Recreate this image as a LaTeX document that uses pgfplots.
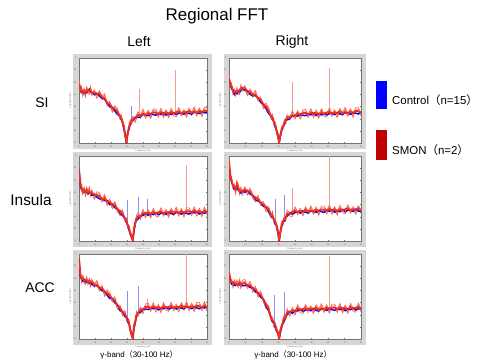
\documentclass[border=0pt]{standalone}
\usepackage{pgfplots}
\pgfplotsset{compat=1.18}
\usepackage{pgfplotstable}
\usepackage{fontspec}
\setmainfont{Liberation Sans}
\newfontfamily\cjk{Noto Sans CJK JP}
\definecolor{myred}{RGB}{240,35,10}
\definecolor{redlight}{RGB}{246,100,75}
\definecolor{frame}{RGB}{214,214,214}
\definecolor{legred}{RGB}{192,0,0}

\pgfplotstableread{
x b r s
0 68.8 70.8 73
1 64.4 63.0 61
2 60.2 62.2 65
3 60.9 59.6 56.5
4 59.0 61.6 63
5 60.1 58.7 55.8
6 59.7 62.0 64.6
7 62.6 61.3 60.1
8 64.0 62.3 58.7
9 60.7 62.1 64.9
10 60.3 58.8 57.5
12 57.5 59.5 60.7
14 59.0 57.7 54.2
16 55.9 58.3 59.9
18 53.2 54.1 52.8
20 52.5 52.2 56.1
22 47.9 46.9 45
24 43.4 45.9 47.4
26 42.2 41.5 38
28 38.3 40.0 42.1
30 34.3 36.8 39.2
32 32.4 31.0 29.2
33 28.2 30.0 32
34 25.9 24.6 22
35 17.5 19.4 20.5
36 11.1 10.0 8.5
37 0.5 1.5 2
38 11.6 10.5 9.5
39 16.6 18.2 16.5
40 22.7 24.1 25.9
41 26.3 24.8 23.5
42 27.0 28.5 29.7
44 31.0 29.7 26.2
46 30.9 33.3 34.9
48 31.2 32.1 30.8
50 34.5 34.2 38.1
52 33.9 32.9 31
54 32.9 35.4 36.9
56 34.7 34.0 30.5
58 34.3 36.0 38.1
60 33.3 35.8 38.2
62 35.4 34.0 32.2
64 34.2 36.2 39
66 35.9 34.6 31.5
68 33.5 36.1 37.6
70 35.6 34.2 31.3
72 34.2 36.5 39.1
74 36.1 34.8 33.6
76 34.1 36.3 32.7
78 35.7 37.1 39.9
80 36.3 34.8 33.5
82 34.5 36.5 37.7
84 37.0 35.7 32.2
86 35.4 37.8 39.4
88 34.7 35.6 34.3
90 37.0 36.7 40.6
92 36.4 35.4 33.5
94 35.4 37.9 39.4
96 37.2 36.5 33
98 36.3 38.0 40.1
100 36.1 37.8 40.2
}\tl

\pgfplotstableread{
x b r s
0 74.3 76.8 79.2
1 70.4 69.0 67.2
2 64.2 66.2 69.0
3 62.9 61.6 58.5
4 58.0 60.6 62.1
5 61.1 59.7 56.8
6 58.7 61.0 63.6
7 61.6 60.3 59.1
8 60.1 62.3 58.7
9 62.7 64.1 66.9
10 65.3 63.8 62.5
12 62.5 64.5 65.7
14 62.0 60.7 57.2
16 57.9 60.3 61.9
18 56.2 57.1 55.8
20 56.5 56.2 60.1
22 53.9 52.9 51.0
24 48.4 50.9 52.4
26 46.2 45.5 42.0
28 41.3 43.0 45.1
30 35.3 37.8 40.2
32 32.4 31.0 29.2
33 28.2 30.2 32.0
34 25.9 24.6 22.5
35 19.0 21.6 22.5
36 16.1 15.0 13.5
37 8.3 9.5 10.5
38 1.5 1.0 0.5
39 9.0 10.3 8.5
40 15.7 17.0 18.5
41 20.3 18.8 18.0
42 22.5 24.5 25.7
43 28.0 26.7 24.0
44 27.9 30.3 31.9
46 29.2 30.1 28.8
48 32.5 32.2 36.1
50 32.9 31.9 30.0
52 32.4 34.9 36.4
54 34.2 33.5 30.0
56 33.3 35.0 37.1
58 32.8 35.3 37.7
60 34.9 33.5 31.7
62 33.7 35.7 38.5
64 35.9 34.6 31.5
66 33.0 35.6 37.1
68 35.1 33.7 30.8
70 33.7 36.0 38.6
72 35.6 34.3 33.1
74 33.6 35.8 32.2
76 35.2 36.6 39.4
78 35.8 34.3 33.0
80 34.0 36.0 37.2
82 36.5 35.2 31.7
84 34.9 37.3 38.9
86 34.2 35.1 33.8
88 36.5 36.2 40.1
90 35.9 34.9 33.0
92 34.4 36.9 38.4
94 36.2 35.5 32.0
96 35.8 37.5 39.6
98 34.8 37.3 39.7
100 36.9 35.5 33.7
}\tr

\pgfplotstableread{
x b r s
0 84.6 83.3 82.1
1 66.1 68.3 64.7
2 60.7 62.1 64.9
3 59.3 57.8 56.5
4 58.5 60.5 61.7
5 59.0 57.7 54.2
6 57.9 60.3 61.9
7 56.2 57.1 55.8
8 58.5 58.2 62.1
9 56.9 55.9 54.0
10 54.4 56.9 58.4
12 55.2 54.5 51.0
14 52.3 54.0 56.1
16 50.3 52.8 55.2
18 50.4 49.0 47.2
20 48.2 50.2 53.0
22 47.9 46.6 43.5
24 43.5 46.1 47.6
26 44.1 42.7 39.8
28 39.7 42.0 44.6
30 38.6 37.3 36.1
32 33.1 35.3 31.7
34 30.7 32.1 34.9
36 27.3 25.8 24.5
37 22.5 24.5 25.7
38 20.0 18.7 16.5
39 14.0 16.0 17.0
40 9.0 9.3 8.5
41 5.5 5.2 6.5
42 1.0 0.5 0.5
43 12.4 14.9 15.5
44 22.2 21.5 19.0
45 25.3 27.0 29.1
46 26.3 28.8 31.2
48 30.4 29.0 27.2
50 30.7 32.7 35.5
52 33.4 32.1 29.0
54 31.0 33.6 35.1
56 33.1 31.7 28.8
58 31.7 34.0 36.6
60 33.6 32.3 31.1
62 31.6 33.8 30.2
64 33.2 34.6 37.4
66 33.8 32.3 31.0
68 32.0 34.0 35.2
70 34.5 33.2 29.7
72 32.9 35.3 36.9
74 32.2 33.1 31.8
76 34.5 34.2 38.1
78 33.9 32.9 31.0
80 32.4 34.9 36.4
82 34.2 33.5 30.0
84 33.3 35.0 37.1
86 32.3 34.8 37.2
88 34.9 33.5 31.7
90 33.7 35.7 38.5
92 35.4 34.1 31.0
94 32.5 35.1 36.6
96 34.6 33.2 30.3
98 33.2 35.5 38.1
100 35.1 33.8 32.6
}\ml

\pgfplotstableread{
x b r s
0 90.9 93.3 94.9
1 76.2 77.1 75.8
2 70.5 70.2 74.1
3 65.9 64.9 63.0
4 61.4 63.9 65.4
5 61.2 60.5 57.0
6 65.3 67.0 69.1
7 60.3 62.8 65.2
8 59.4 58.0 56.2
9 57.2 59.2 62.0
10 59.9 58.6 55.5
12 58.0 60.6 62.1
14 60.1 58.7 55.8
16 55.7 58.0 60.6
18 54.6 53.3 52.1
20 49.1 51.3 47.7
22 47.7 49.1 51.9
24 46.3 44.8 43.5
26 41.5 43.5 44.7
28 41.0 39.7 36.2
30 34.9 37.3 38.9
32 29.2 30.1 28.8
33 29.5 29.2 33.1
34 25.9 24.9 23.0
35 20.4 22.9 24.4
36 19.2 18.5 16.0
37 10.3 12.0 13.0
38 0.5 1.5 2.0
39 12.4 11.0 10.0
40 18.2 20.2 22.0
41 23.9 22.6 20.5
42 24.0 26.6 28.1
43 29.1 27.7 24.8
44 29.7 32.0 34.6
46 33.6 32.3 31.1
48 32.1 34.3 30.7
50 34.2 35.6 38.4
52 35.3 33.8 32.5
54 33.5 35.5 36.7
56 36.0 34.7 31.2
58 34.4 36.8 38.4
60 33.7 34.6 33.3
62 36.0 35.7 39.6
64 35.9 34.9 33.0
66 34.4 36.9 38.4
68 36.2 35.5 32.0
70 35.3 37.0 39.1
72 34.3 36.8 39.2
74 36.9 35.5 33.7
76 35.7 37.7 40.5
78 37.4 36.1 33.0
80 34.5 37.1 38.6
82 36.6 35.2 32.3
84 35.2 37.5 40.1
86 37.6 36.3 35.1
88 35.1 37.3 33.7
90 36.7 38.1 40.9
92 37.3 35.8 34.5
94 35.5 37.5 38.7
96 38.0 36.7 33.2
98 35.9 38.3 39.9
100 35.2 36.1 34.8
}\mr

\pgfplotstableread{
x b r s
0 94.9 93.6 90.5
1 74.0 76.6 78.1
2 72.1 70.7 67.8
3 68.7 71.0 73.6
4 70.6 69.3 68.1
5 67.1 69.3 65.7
6 67.7 69.1 71.9
7 68.3 66.8 65.5
8 66.5 68.5 69.7
9 68.0 66.7 63.2
10 64.9 67.3 68.9
12 63.2 64.1 62.8
14 63.5 63.2 67.1
16 60.9 59.9 58.0
18 57.4 59.9 61.4
20 56.2 55.5 52.0
22 52.3 54.0 56.1
24 48.3 50.8 53.2
26 48.4 47.0 45.2
28 43.2 45.2 48.0
30 40.9 39.6 36.5
32 34.0 36.6 38.1
34 33.1 31.7 28.8
36 26.7 29.0 31.6
37 26.6 25.3 24.1
38 21.1 23.3 20.5
39 18.7 20.1 21.5
40 12.3 10.8 10.5
41 5.5 6.5 7.0
42 1.5 0.7 0.5
43 12.9 15.3 16.0
44 20.2 21.1 19.8
45 28.5 28.2 31.1
46 30.9 29.9 28.0
48 31.9 34.4 35.9
50 35.7 35.0 31.5
52 35.8 37.5 39.6
54 35.3 37.8 40.2
56 37.4 36.0 34.2
58 36.2 38.2 41.0
60 37.9 36.6 33.5
62 35.0 37.6 39.1
64 37.1 35.7 32.8
66 36.2 38.5 41.1
68 38.1 36.8 35.6
70 35.6 37.8 34.2
72 37.2 38.6 41.4
74 37.8 36.3 35.0
76 36.0 38.0 39.2
78 38.5 37.2 33.7
80 36.9 39.3 40.9
82 36.2 37.1 35.8
84 38.5 38.2 42.1
86 37.9 36.9 35.0
88 36.4 38.9 40.4
90 38.2 37.5 34.0
92 37.3 39.0 41.1
94 36.3 38.8 41.2
96 38.4 37.0 35.2
98 37.2 39.2 42.0
100 38.9 37.6 34.5
}\bl

\pgfplotstableread{
x b r s
0 77.7 79.1 81.9
1 70.3 68.8 67.5
2 65.5 67.5 68.7
3 67.0 65.7 62.2
4 63.9 66.3 67.9
5 64.2 65.1 63.8
6 64.5 64.2 68.1
7 64.9 63.9 62.0
8 64.4 66.9 68.4
9 65.2 64.5 61.0
10 63.3 65.0 67.1
12 63.3 65.8 68.2
14 64.4 63.0 61.2
16 61.2 63.2 66.0
18 60.9 59.6 56.5
20 56.0 58.6 60.1
22 55.1 53.7 50.8
24 49.7 52.0 54.6
26 47.6 46.3 45.1
28 39.1 41.3 37.7
30 33.7 35.1 37.9
32 25.3 23.8 22.5
33 20.5 22.5 23.7
34 20.0 18.7 16.0
35 13.9 16.3 17.5
36 10.2 11.1 10.5
37 7.5 7.2 9.0
38 1.0 0.5 0.5
39 8.4 10.9 11.5
40 16.2 15.5 13.0
41 19.3 21.0 23.1
42 22.3 24.8 27.2
43 27.4 26.0 24.2
44 29.2 31.2 34.0
46 32.9 31.6 28.5
48 31.0 33.6 35.1
50 34.1 32.7 29.8
52 33.7 36.0 38.6
54 35.6 34.3 33.1
56 33.1 35.3 31.7
58 34.7 36.1 38.9
60 35.8 34.3 33.0
62 34.0 36.0 37.2
64 36.5 35.2 31.7
66 34.4 36.8 38.4
68 33.7 34.6 33.3
70 36.0 35.7 39.6
72 35.9 34.9 33.0
74 34.4 36.9 38.4
76 36.2 35.5 32.0
78 35.3 37.0 39.1
80 34.3 36.8 39.2
82 36.4 35.0 33.2
84 35.2 37.2 40.0
86 36.9 35.6 32.5
88 34.0 36.6 38.1
90 36.1 34.7 31.8
92 35.2 37.5 40.1
94 37.1 35.8 34.6
96 34.6 36.8 33.2
98 36.2 37.6 40.4
100 36.8 35.3 34.0
}\br

\pgfplotsset{
  panel/.style={
    scale only axis, anchor=south west,
    xmin=0, xmax=100, ymin=0, ymax=100,
    axis background/.style={fill=white},
    axis line style={draw=black!55, line width=0.3pt},
    tick style={draw=black!55, line width=0.2pt},
    major tick length=1.4pt,
    xtick={0,12.5,...,100},
    ytick={0,14.2857,...,100},
    xticklabels={0,10,20,30,40,50,60,70,80},
    yticklabels={-70,-60,-50,-40,-30,-20,-10,0},
    tick label style={font=\fontsize{2.2}{2.5}\selectfont, text=black!60},
    xticklabel style={yshift=0.8pt},
    yticklabel style={xshift=0.8pt},
    xlabel={Frequency (Hz)}, ylabel={Log Power (dB)},
    label style={font=\fontsize{2.2}{2.5}\selectfont, text=black!60},
    xlabel style={yshift=4.5pt},
    ylabel style={yshift=-5pt},
    clip=true,
  },
  sl/.style={no markers, color=redlight, line width=0.6pt},
  bl/.style={no markers, color=blue, line width=1.4pt},
  rl/.style={no markers, color=myred, line width=2.0pt, opacity=0.92},
  rs/.style={no markers, color=myred!45, line width=0.4pt},
  bs/.style={no markers, color=blue!45, line width=0.4pt},
}

\newcommand{\panelplots}[1]{%
\addplot[sl, yshift=1.6pt] table[x=x,y=s]{#1};
\addplot[sl, yshift=-1.6pt] table[x=x,y=s]{#1};
\addplot[bl, yshift=-0.6pt] table[x=x,y=b]{#1};
\addplot[rl] table[x=x,y=r]{#1};
\addplot[sl, line width=0.35pt, color=myred!80] table[x=x,y=s]{#1};
}

\begin{document}
\begin{tikzpicture}[x=1bp,y=1bp]
\path[use as bounding box] (0,0) rectangle (481,363);
% grey frames
\fill[frame] (73,214) rectangle (212,309);
\fill[frame] (224,214) rectangle (366,309);
\fill[frame] (73,116) rectangle (212,211);
\fill[frame] (224,116) rectangle (366,211);
\fill[frame] (73,18) rectangle (212,113);
\fill[frame] (224,18) rectangle (366,113);

% SI Left
\begin{axis}[panel, at={(79bp,220bp)}, width=128bp, height=85bp]
\addplot[rs] coordinates {(47,33) (47,64)};
\addplot[rs] coordinates {(75,36) (75,86)};
\addplot[bs] coordinates {(41,26) (41,44)};
\panelplots{\tl}
\end{axis}
% SI Right
\begin{axis}[panel, at={(229bp,220bp)}, width=132bp, height=85bp]
\addplot[rs] coordinates {(48,32) (48,72)};
\addplot[rs] coordinates {(76,36) (76,88)};
\panelplots{\tr}
\end{axis}
% Insula Left
\begin{axis}[panel, at={(79bp,122bp)}, width=128bp, height=85bp]
\addplot[rs] coordinates {(84,34) (84,90)};
\addplot[bs] coordinates {(38,19) (38,48)};
\addplot[bs] coordinates {(46,28) (46,52)};
\addplot[bs] coordinates {(53,33) (53,50)};
\panelplots{\ml}
\end{axis}
% Insula Right
\begin{axis}[panel, at={(229bp,122bp)}, width=132bp, height=85bp]
\addplot[rs] coordinates {(48,34) (48,62)};
\addplot[rs] coordinates {(76,36) (76,100)};
\addplot[bs] coordinates {(35,22) (35,50)};
\addplot[bs] coordinates {(42,26) (42,54)};
\panelplots{\mr}
\end{axis}
% ACC Left
\begin{axis}[panel, at={(79bp,24bp)}, width=128bp, height=85bp]
\addplot[rs] coordinates {(84,38) (84,100)};
\addplot[bs] coordinates {(38,23) (38,56)};
\addplot[bs] coordinates {(46,31) (46,62)};
\addplot[rs] coordinates {(53,36) (53,47)};
\panelplots{\bl}
\end{axis}
% ACC Right
\begin{axis}[panel, at={(229bp,24bp)}, width=132bp, height=85bp]
\addplot[rs] coordinates {(76,36) (76,98)};
\addplot[bs] coordinates {(34,19) (34,52)};
\addplot[bs] coordinates {(42,24) (42,55)};
\panelplots{\br}
\end{axis}

% titles and labels
\node[font=\fontsize{17}{20}\selectfont] at (217,347) {Regional FFT};
\node[font=\fontsize{14}{16}\selectfont] at (139,321) {Left};
\node[font=\fontsize{14}{16}\selectfont] at (292,321) {Right};
\node[font=\fontsize{14}{16}\selectfont] at (42,260) {SI};
\node[font=\fontsize{15.5}{18}\selectfont] at (31,163) {Insula};
\node[font=\fontsize{14}{16}\selectfont] at (40,75) {ACC};
\node[font=\fontsize{8}{10}\selectfont] at (139,8) {γ-band{\cjk （}30-100 Hz{\cjk ）}};
\node[font=\fontsize{8}{10}\selectfont] at (293,8) {γ-band{\cjk （}30-100 Hz{\cjk ）}};
% legend
\fill[blue] (376,254) rectangle (387,282);
\fill[legred] (376,203) rectangle (387,233);
\node[anchor=west, inner sep=0pt, font=\fontsize{11.5}{13}\selectfont] at (392,263) {Control{\cjk （}n=15{\cjk ）}};
\node[anchor=west, inner sep=0pt, font=\fontsize{11.5}{13}\selectfont] at (392,213) {SMON{\cjk （}n=2{\cjk ）}};
\end{tikzpicture}
\end{document}
